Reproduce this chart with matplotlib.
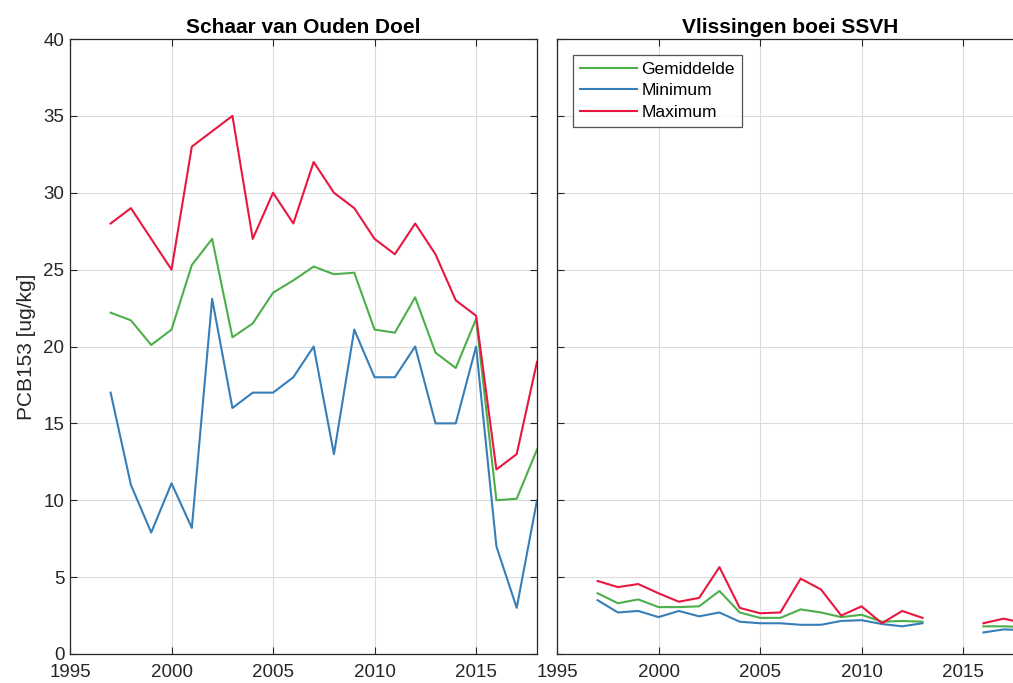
import numpy as np
import matplotlib
matplotlib.use("Agg")
import matplotlib.pyplot as plt

# Yearly PCB153 concentrations in sediment [ug/kg]
years = np.arange(1997, 2019)

# Schaar van Ouden Doel
doel_mean = [22.2, 21.7, 20.1, 21.1, 25.3, 27.0, 20.6, 21.5, 23.5, 24.3, 25.2,
             24.7, 24.8, 21.1, 20.9, 23.2, 19.6, 18.6, 21.8, 10.0, 10.1, 13.3]
doel_min = [17.0, 11.0, 7.9, 11.1, 8.2, 23.1, 16.0, 17.0, 17.0, 18.0, 20.0,
            13.0, 21.1, 18.0, 18.0, 20.0, 15.0, 15.0, 20.0, 7.0, 3.0, 10.0]
doel_max = [28.0, 29.0, 27.0, 25.0, 33.0, 34.0, 35.0, 27.0, 30.0, 28.0, 32.0,
            30.0, 29.0, 27.0, 26.0, 28.0, 26.0, 23.0, 22.0, 12.0, 13.0, 19.0]

# Vlissingen boei SSVH (no samples in 2014 and 2015)
nan = np.nan
vlis_mean = [3.95, 3.3, 3.55, 3.05, 3.05, 3.1, 4.1, 2.7, 2.35, 2.35, 2.9,
             2.7, 2.4, 2.55, 2.1, 2.15, 2.1, nan, nan, 1.8, 1.8, 1.75]
vlis_min = [3.5, 2.7, 2.8, 2.4, 2.8, 2.45, 2.7, 2.1, 2.0, 2.0, 1.9,
            1.9, 2.15, 2.2, 1.95, 1.8, 2.0, nan, nan, 1.4, 1.6, 1.55]
vlis_max = [4.75, 4.35, 4.55, 3.95, 3.4, 3.65, 5.65, 3.0, 2.65, 2.7, 4.9,
            4.2, 2.5, 3.1, 2.0, 2.8, 2.35, nan, nan, 2.0, 2.3, 2.0]

titles = ["Schaar van Ouden Doel", "Vlissingen boei SSVH"]
labels = ["Gemiddelde", "Minimum", "Maximum"]
colors = ["#4daf4a", "#377eb8", "#e8173f"]

plt.rcParams["font.family"] = ["Liberation Sans", "DejaVu Sans"]

W, H = 1013, 683
fig = plt.figure(figsize=(W / 100, H / 100), dpi=100)
fig.patch.set_facecolor("white")

ax_w = 467 / W
ax_b = (H - 654) / H
ax_h = 615 / H
ax1 = fig.add_axes([70 / W, ax_b, ax_w, ax_h])
ax2 = fig.add_axes([557 / W, ax_b, ax_w, ax_h])

series = [(doel_mean, doel_min, doel_max), (vlis_mean, vlis_min, vlis_max)]

for ax, title, data in zip([ax1, ax2], titles, series):
    for vals, lab, col in zip(data, labels, colors):
        ax.plot(years, vals, color=col, lw=1.5, label=lab)
    ax.set_xlim(1995, 2018)
    ax.set_ylim(0, 40)
    ax.set_xticks(np.arange(1995, 2020, 5))
    ax.set_yticks(np.arange(0, 41, 5))
    ax.grid(True, color="#dcdcdc", lw=0.8)
    ax.set_axisbelow(True)
    ax.tick_params(direction="in", length=5, width=0.8, top=True, right=True,
                   labelsize=13.5, colors="#262626", pad=4)
    ax.tick_params(axis="x", pad=7)
    for sp in ax.spines.values():
        sp.set_color("#262626")
        sp.set_linewidth(0.9)
    ax.set_title(title, fontsize=15, fontweight="bold", pad=4)

ax1.set_ylabel("PCB153 [ug/kg]", fontsize=15, color="#262626", labelpad=5)
ax2.tick_params(labelleft=False)

leg = ax2.legend(loc="upper left", fontsize=12.5, handlelength=3.3,
                 frameon=True, fancybox=False, borderaxespad=0.9,
                 handletextpad=0.25, labelspacing=0.38, borderpad=0.4)
leg.get_frame().set_edgecolor("#262626")
leg.get_frame().set_linewidth(0.9)

fig.savefig("out.png", dpi=100, facecolor="white")
